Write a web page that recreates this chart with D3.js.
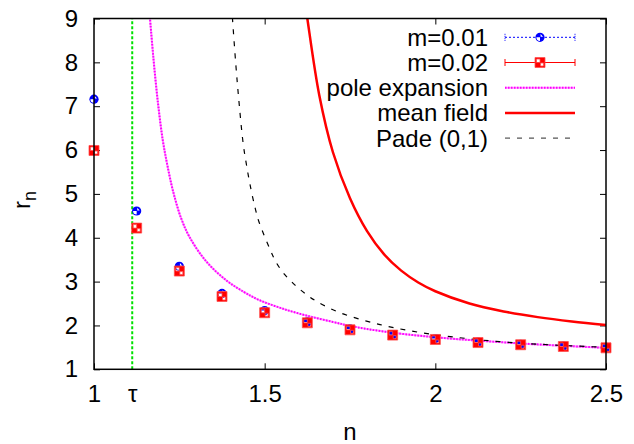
<!DOCTYPE html>
<html>
<head>
<meta charset="utf-8">
<script src="https://cdn.jsdelivr.net/npm/d3@7"></script>
<style>
body { margin: 0; background: #fff; }
svg text { font-family: "Liberation Sans", Arial, sans-serif; fill: #000; }
</style>
</head>
<body>
<div id="chart"></div>
<script>
// tick values
const xTicks = [1, 1.5, 2, 2.5];
const yTicks = [1, 2, 3, 4, 5, 6, 7, 8, 9];
const tau = 1.112;

// simulation points
const nPoints = [1, 1.125, 1.25, 1.375, 1.5, 1.625, 1.75, 1.875, 2, 2.125, 2.25, 2.375, 2.5];
const rM001 = [7.16, 4.61, 3.35, 2.73, 2.34, 2.08, 1.92, 1.79, 1.70, 1.62, 1.57, 1.53, 1.50];
const rM002 = [5.99, 4.22, 3.24, 2.66, 2.29, 2.06, 1.90, 1.78, 1.68, 1.61, 1.56, 1.52, 1.49];

// curves
const poleN = [1.163, 1.174, 1.187, 1.201, 1.215, 1.232, 1.255, 1.281, 1.330, 1.389, 1.440, 1.481, 1.550, 1.625, 1.700, 1.750, 1.850, 2.000, 2.250, 2.500];
const poleR = [9.10, 8.10, 7.10, 6.25, 5.65, 5.05, 4.45, 4.00, 3.45, 3.02, 2.76, 2.59, 2.39, 2.22, 2.08, 1.99, 1.86, 1.73, 1.59, 1.49];

const meanN = [1.615, 1.625, 1.660, 1.700, 1.750, 1.800, 1.850, 1.900, 1.950, 2.000, 2.100, 2.200, 2.300, 2.400, 2.500];
const meanR = [9.55, 9.00, 7.25, 5.95, 4.90, 4.15, 3.62, 3.25, 2.98, 2.78, 2.50, 2.32, 2.19, 2.09, 2.01];

const padeN = [1.403, 1.415, 1.425, 1.437, 1.447, 1.457, 1.472, 1.483, 1.516, 1.535, 1.559, 1.589, 1.618, 1.652, 1.721, 1.838, 1.955, 2.072, 2.189, 2.307, 2.500];
const padeR = [9.30, 8.00, 7.08, 6.15, 5.65, 5.22, 4.68, 4.37, 3.73, 3.42, 3.16, 2.92, 2.73, 2.55, 2.29, 2.02, 1.84, 1.72, 1.63, 1.57, 1.50];

const width = 634;
const height = 444;
const marginTop = 18.5;
const marginRight = 28;
const marginBottom = 74.7;
const marginLeft = 94;
const fontSize = 24;

const svg = d3.select("#chart").append("svg")
    .attr("width", width)
    .attr("height", height)
    .attr("viewBox", [0, 0, width, height]);

const x = d3.scaleLinear([1, 2.5], [marginLeft, width - marginRight]);
const y = d3.scaleLinear([1, 9], [height - marginBottom, marginTop]);

svg.append("defs").append("clipPath").attr("id", "plotclip")
  .append("rect")
    .attr("x", marginLeft).attr("y", marginTop)
    .attr("width", x(2.5) - x(1)).attr("height", y(1) - y(9));

// axes with inward ticks
const fmt = d => d === tau ? "τ" : d3.format("")(d);

svg.append("g")
    .attr("transform", `translate(0,${y(1)})`)
    .call(d3.axisBottom(x).tickValues([1, tau, 1.5, 2, 2.5]).tickSize(-6).tickPadding(16).tickFormat(fmt))
    .call(g => g.select(".domain").remove())
    .call(g => g.selectAll("text").attr("font-size", fontSize).attr("fill", "#000"))
    .call(g => g.selectAll(".tick").filter(d => d === tau).select("line").remove());

svg.append("g")
    .attr("transform", `translate(0,${y(9)})`)
    .call(d3.axisTop(x).tickValues(xTicks).tickSize(-6).tickFormat(""))
    .call(g => g.select(".domain").remove());

svg.append("g")
    .attr("transform", `translate(${x(1)},0)`)
    .call(d3.axisLeft(y).tickValues(yTicks).tickSize(-6).tickPadding(16))
    .call(g => g.select(".domain").remove())
    .call(g => g.selectAll("text").attr("font-size", fontSize).attr("fill", "#000"));

svg.append("g")
    .attr("transform", `translate(${x(2.5)},0)`)
    .call(d3.axisRight(y).tickValues(yTicks).tickSize(-6).tickFormat(""))
    .call(g => g.select(".domain").remove());

// axis titles
svg.append("text")
    .attr("x", (x(1) + x(2.5)) / 2)
    .attr("y", 440)
    .attr("text-anchor", "middle")
    .attr("font-size", fontSize)
    .text("n");

const ylab = svg.append("text")
    .attr("transform", "translate(30,200) rotate(-90)")
    .attr("text-anchor", "middle")
    .attr("font-size", fontSize);
ylab.append("tspan").text("r");
ylab.append("tspan").attr("dy", 6).attr("font-size", 18).text("n");

const plot = svg.append("g").attr("clip-path", "url(#plotclip)");

// tau line
plot.append("line")
    .attr("x1", x(tau)).attr("x2", x(tau))
    .attr("y1", y(1)).attr("y2", y(9))
    .attr("stroke", "#00e000")
    .attr("stroke-width", 2)
    .attr("stroke-dasharray", "3,2");

const line = d3.line()
    .x(d => x(d[0]))
    .y(d => y(d[1]))
    .curve(d3.curveCatmullRom.alpha(0.5));

// pole expansion
plot.append("path")
    .attr("fill", "none")
    .attr("stroke", "#ff99ff")
    .attr("stroke-width", 2)
    .attr("d", line(d3.zip(poleN, poleR)));
plot.append("path")
    .attr("fill", "none")
    .attr("stroke", "#ff00ff")
    .attr("stroke-width", 2)
    .attr("stroke-dasharray", "1.5,1.5")
    .attr("d", line(d3.zip(poleN, poleR)));

// mean field
plot.append("path")
    .attr("fill", "none")
    .attr("stroke", "#ff0000")
    .attr("stroke-width", 2.5)
    .attr("d", line(d3.zip(meanN, meanR)));

// Pade (0,1)
plot.append("path")
    .attr("fill", "none")
    .attr("stroke", "#000")
    .attr("stroke-width", 1.2)
    .attr("stroke-dasharray", "5,7")
    .attr("d", line(d3.zip(padeN, padeR)));

// point markers
function blueMark(g, cx, cy) {
    g.append("circle")
        .attr("cx", cx).attr("cy", cy).attr("r", 4.6)
        .attr("fill", "#0000ff");
    g.append("path")
        .attr("transform", `translate(${cx},${cy})`)
        .attr("d", "M0,0 L-3.6,0 A3.6,3.6 0 0 0 0,3.6 Z M0.6,-0.6 L0.6,-3.2 L3,-0.6 Z")
        .attr("fill", "#fff");
}

function redMark(g, cx, cy) {
    g.append("path")
        .attr("transform", `translate(${cx},${cy})`)
        .attr("d", "M-5,-5 H5 V5 H-5 Z M-3.5,-3.5 H0 V0 H-3.5 Z M0.5,0.5 H3.5 V3.5 H0.5 Z")
        .attr("fill-rule", "evenodd")
        .attr("fill", "#ff0000")
        .attr("stroke", "#ff5050")
        .attr("stroke-width", 0.8);
}

const pts = svg.append("g");
nPoints.forEach((n, i) => blueMark(pts, x(n), y(rM001[i])));
nPoints.forEach((n, i) => redMark(pts, x(n), y(rM002[i])));

// frame
svg.append("rect")
    .attr("x", x(1)).attr("y", y(9))
    .attr("width", x(2.5) - x(1)).attr("height", y(1) - y(9))
    .attr("fill", "none")
    .attr("stroke", "#000")
    .attr("stroke-width", 1.5);

// legend
const legendNames = ["m=0.01", "m=0.02", "pole expansion", "mean field", "Pade (0,1)"];
const lx0 = 505, lx1 = 575, lxm = 540, textX = 488;
const legend = svg.append("g");
legendNames.forEach((name, i) => {
    const ly = 37.3 + i * 25.2;
    legend.append("text")
        .attr("x", textX).attr("y", ly + 8.5)
        .attr("text-anchor", "end")
        .attr("font-size", fontSize)
        .text(name);
    if (i === 0) {
        legend.append("line").attr("x1", lx0).attr("x2", lx1).attr("y1", ly).attr("y2", ly)
            .attr("stroke", "#0000ff").attr("stroke-width", 1).attr("stroke-dasharray", "2,2");
        [lx0, lx1].forEach(cx => legend.append("line").attr("x1", cx).attr("x2", cx)
            .attr("y1", ly - 3.5).attr("y2", ly + 3.5).attr("stroke", "#0000ff").attr("stroke-dasharray", "1,1"));
        blueMark(legend, lxm, ly);
    } else if (i === 1) {
        legend.append("line").attr("x1", lx0).attr("x2", lx1).attr("y1", ly).attr("y2", ly)
            .attr("stroke", "#ff0000").attr("stroke-width", 1);
        [lx0, lx1].forEach(cx => legend.append("line").attr("x1", cx).attr("x2", cx)
            .attr("y1", ly - 3.5).attr("y2", ly + 3.5).attr("stroke", "#ff0000"));
        redMark(legend, lxm, ly);
    } else if (i === 2) {
        legend.append("line").attr("x1", lx0).attr("x2", lx1).attr("y1", ly).attr("y2", ly)
            .attr("stroke", "#ff99ff").attr("stroke-width", 2);
        legend.append("line").attr("x1", lx0).attr("x2", lx1).attr("y1", ly).attr("y2", ly)
            .attr("stroke", "#ff00ff").attr("stroke-width", 2).attr("stroke-dasharray", "1.5,1.5");
    } else if (i === 3) {
        legend.append("line").attr("x1", lx0).attr("x2", lx1).attr("y1", ly).attr("y2", ly)
            .attr("stroke", "#ff0000").attr("stroke-width", 2.5);
    } else {
        legend.append("line").attr("x1", lx0).attr("x2", lx1).attr("y1", ly).attr("y2", ly)
            .attr("stroke", "#555").attr("stroke-width", 1.2).attr("stroke-dasharray", "5,7");
    }
});
</script>
</body>
</html>
